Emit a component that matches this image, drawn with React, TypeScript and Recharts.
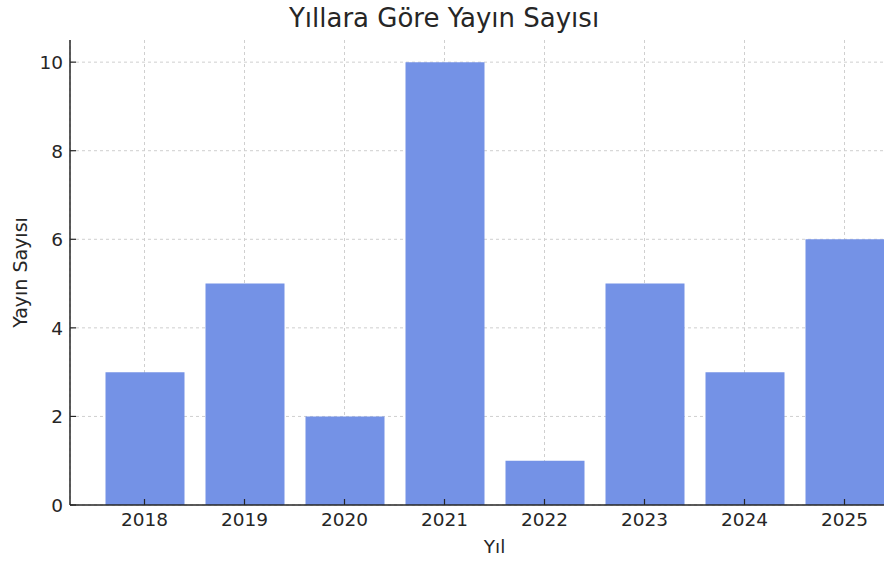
import React from "react";
import { BarChart, Bar, XAxis, YAxis, CartesianGrid, Label } from "recharts";

const years = ["2018", "2019", "2020", "2021", "2022", "2023", "2024", "2025"];
const counts = [3, 5, 2, 10, 1, 5, 3, 6];
const yTicks = [0, 2, 4, 6, 8, 10];
const yMax = 10.5;

const data = years.map((year, i) => ({ year, count: counts[i] }));

const FONT = "'DejaVu Sans', sans-serif";
const INK = "#262626";

const XTick = (props: any) => {
  const { x, y, payload } = props;
  return (
    <g>
      <line x1={x} y1={y} x2={x} y2={y - 6} stroke={INK} strokeWidth={1.2} />
      <text x={x} y={y + 21} textAnchor="middle" fontSize={18.5} fill={INK} fontFamily={FONT}>
        {payload.value}
      </text>
    </g>
  );
};

const YTick = (props: any) => {
  const { x, y, payload } = props;
  return (
    <g>
      <line x1={x} y1={y} x2={x + 6} y2={y} stroke={INK} strokeWidth={1.2} />
      <text x={x - 7} y={y + 7} textAnchor="end" fontSize={18.5} fill={INK} fontFamily={FONT}>
        {payload.value}
      </text>
    </g>
  );
};

// horizontal grid only at the tick values (no extra line at the top edge)
const gridRows = (args: any) => {
  const { yAxis, offset } = args;
  if (yAxis && typeof yAxis.scale === "function") {
    return yTicks.map((t) => yAxis.scale(t));
  }
  return yTicks.map((t) => offset.top + offset.height * (1 - t / yMax));
};

export default function App() {
  return (
    <div
      style={{
        position: "fixed",
        left: 0,
        top: 0,
        width: 884,
        height: 561,
        overflow: "hidden",
        background: "#fff",
      }}>
      <div
        style={{
          position: "absolute",
          left: 0,
          width: 888,
          top: 3,
          textAlign: "center",
          fontFamily: FONT,
          fontSize: 26,
          color: INK,
        }}>
        Yıllara Göre Yayın Sayısı
      </div>
      <BarChart
        width={950}
        height={561}
        data={data}
        margin={{ top: 40, right: 31, left: 30, bottom: 0 }}
        barSize={79}>
        <CartesianGrid
          stroke="#cfcfcf"
          strokeDasharray="3 3"
          horizontalCoordinatesGenerator={gridRows}
        />
        <XAxis
          dataKey="year"
          height={56}
          padding={{ left: 24.5, right: 24.5 }}
          stroke={INK}
          strokeWidth={1.5}
          tickLine={false}
          tickSize={0}
          tickMargin={0}
          interval={0}
          tick={<XTick />}>
          <Label
            value="Yıl"
            position="insideBottom"
            offset={8}
            style={{ fontFamily: FONT, fontSize: 18.5, fill: INK }}
          />
        </XAxis>
        <YAxis
          width={40}
          domain={[0, yMax]}
          ticks={yTicks}
          allowDataOverflow
          stroke={INK}
          strokeWidth={1.5}
          tickLine={false}
          tickSize={0}
          tickMargin={0}
          tick={<YTick />}>
          <Label
            value="Yayın Sayısı"
            angle={-90}
            position="insideLeft"
            offset={-10}
            style={{ fontFamily: FONT, fontSize: 19, fill: INK, textAnchor: "middle" }}
          />
        </YAxis>
        <Bar dataKey="count" fill="#7492E6" isAnimationActive={false} />
      </BarChart>
    </div>
  );
}
